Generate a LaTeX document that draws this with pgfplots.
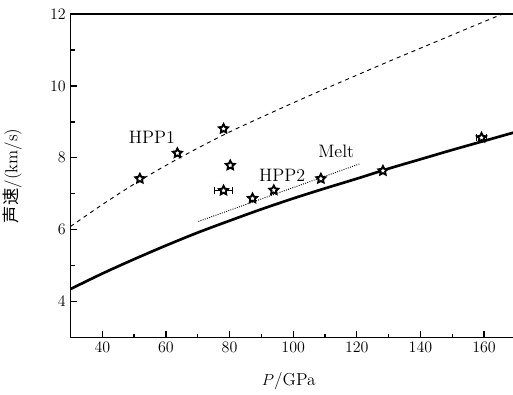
\documentclass[border=0pt]{standalone}
\usepackage{pgfplots}
\pgfplotsset{compat=1.18}
\usepackage{fontspec}
\newfontfamily\cjk{Noto Sans CJK SC}
\pgfdeclareplotmark{ostar}{%
  \pgfpathmoveto{\pgfqpointpolar{90}{\pgfplotmarksize}}%
  \pgfpathlineto{\pgfqpointpolar{126}{0.5\pgfplotmarksize}}%
  \pgfpathlineto{\pgfqpointpolar{162}{\pgfplotmarksize}}%
  \pgfpathlineto{\pgfqpointpolar{198}{0.5\pgfplotmarksize}}%
  \pgfpathlineto{\pgfqpointpolar{234}{\pgfplotmarksize}}%
  \pgfpathlineto{\pgfqpointpolar{270}{0.5\pgfplotmarksize}}%
  \pgfpathlineto{\pgfqpointpolar{306}{\pgfplotmarksize}}%
  \pgfpathlineto{\pgfqpointpolar{342}{0.5\pgfplotmarksize}}%
  \pgfpathlineto{\pgfqpointpolar{18}{\pgfplotmarksize}}%
  \pgfpathlineto{\pgfqpointpolar{54}{0.5\pgfplotmarksize}}%
  \pgfpathclose
  \pgfusepathqfillstroke
}
\begin{document}
\begin{tikzpicture}
\begin{axis}[
  at={(52.9pt,43.1pt)}, anchor=south west,
  scale only axis, width=334pt, height=242.6pt,
  xmin=30, xmax=170, ymin=3, ymax=12,
  xtick={40,60,...,160}, ytick={4,6,...,12},
  minor xtick={50,70,...,150}, minor ytick={5,7,9,11},
  xtick pos=bottom, ytick pos=left,
  tick align=inside,
  major tick length=5pt, minor tick length=3pt,
  every tick/.style={black, line width=1pt},
  axis line style={line width=1.3pt},
  tick label style={font=\fontsize{13}{15}\selectfont},
  xlabel={$P$/GPa},
  ylabel={{\cjk 声速}/(km/s)},
  xlabel style={font=\fontsize{13}{15}\selectfont, at={(axis description cs:0.49,-0.135)}, anchor=center},
  ylabel style={font=\fontsize{13}{15}\selectfont, at={(axis description cs:-0.131,0.5)}, anchor=center},
  clip=true,
]
% solid curve
\addplot[black, line width=2pt, smooth] coordinates {
(30,4.35) (40,4.78) (50,5.18) (60,5.56) (70,5.92) (80,6.25) (90,6.57)
(100,6.87) (110,7.15) (120,7.42) (130,7.70) (140,7.96) (150,8.22)
(160,8.47) (170,8.72)};
% dashed curve
\addplot[black, line width=0.7pt, dashed, smooth] coordinates {
(30,6.09) (40,6.70) (50,7.27) (60,7.79) (70,8.27) (80,8.72) (90,9.13)
(100,9.53) (110,9.92) (120,10.30) (130,10.68) (140,11.05) (150,11.42)
(160,11.79) (170,12.15)};
% dotted melt line
\addplot[black, line width=0.7pt, densely dotted] coordinates {(70.2,6.23) (120.8,7.83)};
% data points
\addplot[black, only marks, mark=ostar, mark size=3.5pt,
  mark options={fill=white, line width=1.4pt},
  error bars/.cd, x dir=both, x explicit,
  error bar style={line width=0.8pt}, error mark options={rotate=90, mark size=2.5pt, line width=0.8pt}]
  coordinates {
  (51.8,7.42) +- (0,0)
  (63.6,8.13) +- (0,0)
  (78.1,8.81) +- (0,0)
  (80.2,7.79) +- (0,0)
  (78.1,7.09) +- (2.9,0)
  (87.2,6.87) +- (0,0)
  (93.9,7.10) +- (0,0)
  (108.7,7.42) +- (0,0)
  (128.2,7.64) +- (0,0)
  (159.2,8.56) +- (1.7,0)
};
\node[font=\fontsize{13.5}{15}\selectfont] at (axis cs:55.6,8.58) {HPP1};
\node[font=\fontsize{13.5}{15}\selectfont] at (axis cs:96.5,7.5) {HPP2};
\node[font=\fontsize{13.5}{15}\selectfont] at (axis cs:113.5,8.17) {Melt};
\end{axis}
\pgfresetboundingbox
\path[use as bounding box] (0,0) rectangle (384.75pt,296.25pt);
\end{tikzpicture}
\end{document}
